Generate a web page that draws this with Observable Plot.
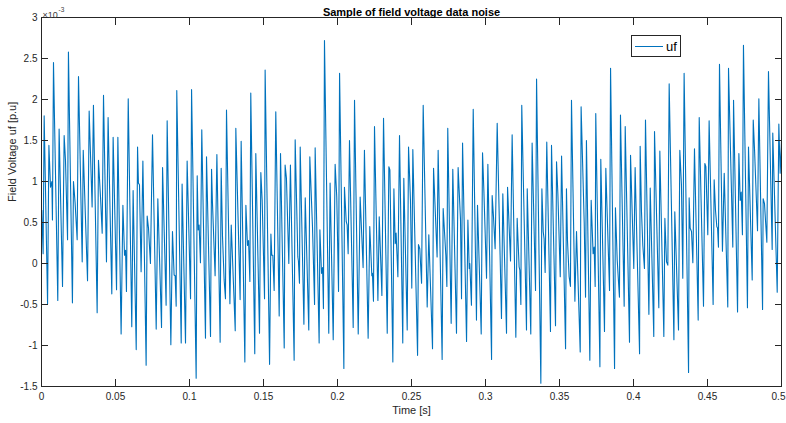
<!DOCTYPE html>
<html>
<head>
<meta charset="utf-8">
<script src="https://cdn.jsdelivr.net/npm/d3@7"></script>
<script src="https://cdn.jsdelivr.net/npm/@observablehq/plot@0.6"></script>
<style>
  html, body { margin: 0; padding: 0; background: #fff; }
  #chart svg { display: block; }
</style>
</head>
<body>
<div id="chart"></div>
<script>
// Time in milliseconds
const timeMs = [
0.2,1.1,1.8,4.1,5.0,6.1,7.0,7.4,8.1,11.0,11.9,14.2,15.3,16.2,17.6,18.2,20.9,21.6,22.7,24.1,
25.0,27.5,28.2,31.1,32.2,34.2,35.1,37.6,38.5,39.9,41.0,41.9,43.9,45.0,47.5,48.4,50.7,51.6,53.8,55.0,
56.1,56.8,57.4,58.6,61.0,61.9,64.0,64.9,65.5,66.2,67.3,68.5,70.7,71.4,72.3,73.6,75.0,77.5,78.6,81.1,
81.8,84.2,84.9,87.4,88.5,89.6,90.3,91.0,91.4,94.4,95.0,97.3,98.4,100.7,101.4,104.5,105.2,105.9,106.5,107.4,
108.3,110.8,111.5,114.2,114.9,115.5,117.3,118.5,120.7,121.4,122.3,123.4,124.3,125.0,127.3,128.2,130.9,131.3,134.2,134.9,
137.4,138.1,139.2,139.9,140.8,141.4,144.1,144.8,147.3,148.2,149.1,150.7,151.1,154.1,155.0,155.6,156.3,157.2,158.3,160.6,
161.5,164.0,164.6,165.5,167.1,168.2,170.7,171.4,173.2,173.6,174.3,174.8,177.3,178.2,180.6,181.3,183.1,184.5,184.9,187.6,
188.1,189.2,189.9,190.5,191.2,194.1,195.0,197.1,198.4,199.5,200.7,201.4,204.3,204.7,205.9,206.5,207.2,208.1,210.6,211.5,
214.0,215.3,217.3,218.2,220.7,221.8,223.2,223.6,224.3,225.0,227.3,228.2,230.0,231.1,233.6,234.7,235.4,237.4,238.1,239.0,
239.6,240.8,241.9,244.1,244.8,247.1,248.0,249.3,250.2,250.9,254.1,254.7,255.6,256.8,257.9,260.6,261.7,264.2,264.9,267.3,
268.0,270.7,271.4,273.2,273.9,274.5,276.8,277.9,280.4,281.5,283.1,283.8,284.5,287.2,288.1,289.0,289.4,290.5,291.7,293.9,
294.6,297.1,298.0,298.9,300.7,301.6,304.1,304.5,305.4,306.5,307.9,310.8,311.7,314.2,314.9,316.9,318.0,320.5,321.4,322.7,
323.2,323.9,324.5,327.7,328.2,330.6,331.5,333.8,334.5,337.4,338.1,339.0,339.6,340.3,341.4,343.9,344.6,347.3,348.0,348.9,
350.5,351.4,354.1,354.7,355.4,356.5,357.4,358.1,360.4,361.5,364.0,364.6,366.7,367.6,368.2,370.5,371.4,372.7,373.4,374.1,
374.5,377.3,377.9,380.4,381.3,383.8,384.5,387.2,387.8,389.0,390.5,391.2,393.7,394.4,397.3,398.0,400.2,401.1,404.1,404.5,
405.4,406.3,407.4,408.1,410.4,411.3,413.7,414.2,417.1,417.8,420.5,421.2,422.3,423.2,424.1,427.3,427.9,430.4,431.3,432.4,
433.3,434.2,437.2,437.6,438.3,439.2,440.1,441.2,443.7,444.4,447.3,448.2,448.9,450.2,451.1,453.8,454.5,455.4,456.3,456.8,
457.4,458.1,460.1,461.3,463.7,464.2,467.1,467.6,470.3,471.2,472.1,472.8,473.6,474.3,477.0,477.7,480.2,480.9,481.8,483.8,
484.7,487.2,487.6,488.5,490.1,491.2,493.7,494.1,497.1,498.2,499.1,500.0
];

// Field voltage uf, in units of 1e-3 p.u.
const ufValues = [
0.65,0.12,1.8,-0.49,1.44,0.93,1.0,0.53,2.45,-0.45,1.64,-0.28,1.56,1.26,0.29,2.58,-0.48,1.0,0.74,0.29,
2.28,0.02,1.38,-0.21,1.86,0.69,1.93,-0.6,1.26,0.8,0.37,2.05,0.02,1.78,-0.37,1.54,-0.32,1.54,-0.86,0.71,
0.1,0.16,-0.34,2.01,-0.77,0.89,-1.05,1.42,0.98,0.96,-0.1,1.25,-1.24,0.58,0.43,0.0,1.57,-0.8,0.79,-0.78,
1.17,-0.51,1.74,-0.99,0.39,-0.14,-0.15,-0.52,2.11,-0.97,0.97,-0.97,1.25,-0.43,2.12,-1.4,1.07,0.41,0.47,0.01,
1.63,-0.91,1.3,-0.89,1.15,0.75,-0.15,1.33,-0.96,1.16,0.33,-0.2,-0.43,1.87,-0.49,0.47,-0.82,1.65,-0.44,1.49,
-1.2,0.71,0.22,0.28,-0.22,2.08,-1.1,1.34,-0.85,1.11,0.77,-0.43,2.36,-1.23,0.36,0.1,0.1,-0.33,1.85,-0.64,
1.34,-1.03,1.2,1.04,0.0,1.2,-1.18,1.51,0.08,0.03,-0.24,1.42,-0.74,0.8,-0.81,1.3,0.45,-0.5,1.41,-0.97,
0.41,-0.12,-0.05,-0.55,2.72,-0.85,0.98,-0.93,1.21,0.81,-0.34,2.32,-1.28,0.93,0.51,0.47,0.12,1.5,-0.78,1.99,
-0.86,0.81,-0.05,1.38,-0.91,0.45,-0.15,-0.12,-0.46,1.67,-0.45,0.57,-0.39,1.77,-0.85,1.18,1.14,-1.2,0.91,0.24,
0.37,-0.16,1.56,-0.97,1.04,-0.81,1.42,0.77,-0.3,1.39,-1.12,0.23,0.18,-0.24,1.93,-0.53,0.35,-1.04,1.16,0.08,
1.38,-1.17,0.67,0.1,-0.28,1.65,-0.73,1.15,-0.85,1.17,0.54,-0.43,1.47,-0.95,0.53,-0.06,0.0,-0.51,1.88,-0.69,
0.71,-0.86,1.35,0.89,-0.18,1.21,-1.17,0.83,0.57,0.18,1.71,-0.67,0.85,-0.85,0.93,0.03,1.57,-0.9,0.55,-0.04,
-0.08,-0.5,1.93,-0.81,0.91,-0.86,1.47,-0.33,2.25,-1.46,0.91,0.39,0.3,-0.11,1.48,-0.83,1.44,-0.76,1.24,0.85,
-0.16,1.31,-1.04,0.91,0.28,-0.16,-0.28,1.99,-0.46,0.39,-1.08,1.91,0.49,-0.41,1.5,-1.18,0.77,0.12,0.2,-0.28,
1.83,-1.26,1.27,-0.83,1.16,-0.33,2.38,-1.28,0.68,0.04,-0.41,1.81,-0.52,1.67,-0.96,1.32,-0.06,1.17,-1.1,1.43,
0.63,0.22,-0.06,1.75,-0.62,0.92,-0.89,1.61,-0.54,1.37,-0.89,0.55,0.02,-0.02,2.19,-0.93,0.63,-0.81,1.38,0.96,
-0.18,2.32,-1.33,0.8,0.43,0.39,0.01,1.4,-0.69,1.78,-0.52,1.22,1.18,0.35,1.74,-0.5,1.02,0.65,0.45,0.43,
0.2,2.43,0.15,1.1,-0.53,2.38,0.2,1.99,-0.59,1.34,0.77,0.87,0.35,2.66,-0.54,1.42,-0.2,1.75,1.38,0.4,
2.01,-0.56,0.79,0.73,0.26,2.34,0.17,1.59,-0.35,1.7,1.1,1.5
];

const xTicks = [0, 0.05, 0.1, 0.15, 0.2, 0.25, 0.3, 0.35, 0.4, 0.45, 0.5];
const yTicks = [-1.5, -1, -0.5, 0, 0.5, 1, 1.5, 2, 2.5, 3];
const titleText = "Sample of field voltage data noise";
const xLabel = "Time [s]";
const yLabel = "Field Voltage uf [p.u]";
const seriesName = "uf";
const lineColor = "#0072BD";
const axisColor = "#262626";

const data = timeMs.map((t, i) => ({time: t / 1000, uf: ufValues[i]}));
const fmt = d => String(+d.toFixed(2));
const xTicksInner = xTicks.slice(0, -1);
const xTickLast = xTicks.slice(-1);

const chart = Plot.plot({
  width: 786,
  height: 423,
  marginLeft: 41,
  marginRight: 5,
  marginTop: 17,
  marginBottom: 37,
  style: {fontFamily: "'Liberation Sans', Arial, Helvetica, sans-serif", fontSize: "10px", color: axisColor, background: "#fff", overflow: "visible"},
  x: {domain: [0, 0.5]},
  y: {domain: [-1.5, 3]},
  marks: [
    Plot.line(data, {x: "time", y: "uf", stroke: lineColor, strokeWidth: 1.1}),
    // tick labels
    Plot.axisX(xTicksInner, {anchor: "bottom", tickSize: 0, tickPadding: 6, tickFormat: fmt, label: null}),
    Plot.axisX(xTickLast, {anchor: "bottom", tickSize: 0, tickPadding: 6, tickFormat: fmt, label: null, dx: -3}),
    Plot.axisY(yTicks, {anchor: "left", tickSize: 0, tickPadding: 4, tickFormat: fmt, label: null}),
    // inward ticks on all four sides
    Plot.axisX(xTicks, {anchor: "bottom", tickSize: -7, fill: "none", label: null, stroke: axisColor}),
    Plot.axisX(xTicks, {anchor: "top", tickSize: -7, fill: "none", label: null, stroke: axisColor}),
    Plot.axisY(yTicks, {anchor: "left", tickSize: -7, fill: "none", label: null, stroke: axisColor}),
    Plot.axisY(yTicks, {anchor: "right", tickSize: -7, fill: "none", label: null, stroke: axisColor}),
    Plot.frame({stroke: axisColor}),
    // title, labels, exponent
    Plot.text([titleText], {text: d => d, frameAnchor: "top", dy: -9, fontWeight: "bold", fontSize: 11, fill: "#000"}),
    Plot.text([xLabel], {text: d => d, frameAnchor: "bottom", dy: 27, fontSize: 11}),
    Plot.text([yLabel], {text: d => d, frameAnchor: "left", dx: -29, rotate: -90, fontSize: 11}),
    Plot.text(["\u00d710"], {text: d => d, frameAnchor: "top-left", dx: 1, dy: -6, textAnchor: "start", fontSize: 9, fill: "#404040"}),
    Plot.text(["-3"], {text: d => d, frameAnchor: "top-left", dx: 17, dy: -10, textAnchor: "start", fontSize: 6.5, fill: "#404040"})
  ]
});

// Legend box (MATLAB style, inside the axes, near top-right)
const svg = d3.select(chart);
const lg = svg.append("g").attr("class", "legend").attr("text-anchor", "start");
lg.append("rect").attr("x", 631.5).attr("y", 35.5).attr("width", 49).attr("height", 21)
  .attr("fill", "#fff").attr("stroke", axisColor).attr("stroke-width", 1);
lg.append("line").attr("x1", 635).attr("x2", 663).attr("y1", 46.5).attr("y2", 46.5)
  .attr("stroke", lineColor).attr("stroke-width", 1);
lg.append("text").attr("x", 666).attr("y", 51).attr("font-size", 13)
  .attr("text-anchor", "start").attr("fill", "#000").text(seriesName);

document.getElementById("chart").appendChild(chart);
</script>
</body>
</html>
